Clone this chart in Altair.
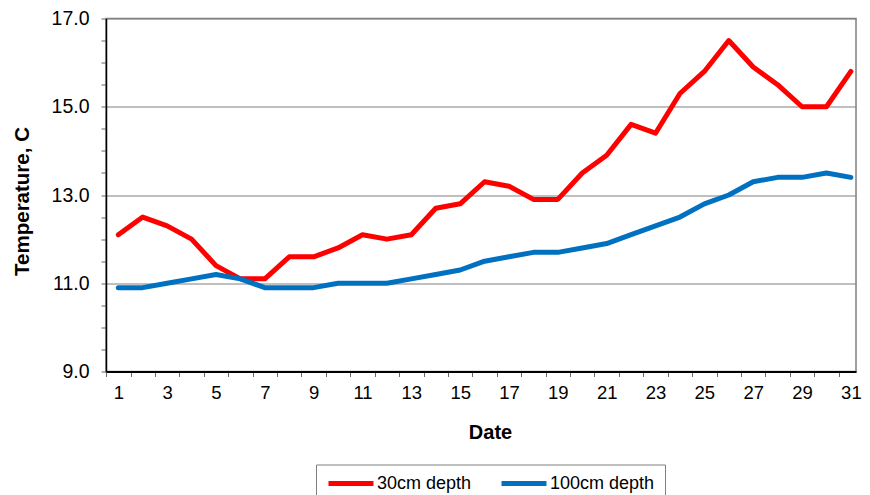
import altair as alt
import pandas as pd

days = list(range(1, 32))
depth_30cm = [12.1, 12.5, 12.3, 12.0, 11.4, 11.1, 11.1, 11.6, 11.6, 11.8,
              12.1, 12.0, 12.1, 12.7, 12.8, 13.3, 13.2, 12.9, 12.9, 13.5,
              13.9, 14.6, 14.4, 15.3, 15.8, 16.5, 15.9, 15.5, 15.0, 15.0, 15.8]
depth_100cm = [10.9, 10.9, 11.0, 11.1, 11.2, 11.1, 10.9, 10.9, 10.9, 11.0,
               11.0, 11.0, 11.1, 11.2, 11.3, 11.5, 11.6, 11.7, 11.7, 11.8,
               11.9, 12.1, 12.3, 12.5, 12.8, 13.0, 13.3, 13.4, 13.4, 13.5, 13.4]
series_names = ["30cm depth", "100cm depth"]
series_colors = ["#FF0000", "#0070C0"]

df = pd.DataFrame({"Date": days, series_names[0]: depth_30cm, series_names[1]: depth_100cm})
long = df.melt(id_vars="Date", var_name="Series", value_name="Temp")

W = 750
H = 353
X_DOMAIN = [0.496, 31.21]
half_band = W / (X_DOMAIN[1] - X_DOMAIN[0]) / 2
FONT = "Liberation Sans"

y_vals = [9 + 0.5 * i for i in range(17)]

chart = alt.Chart(long).mark_line(strokeWidth=5, strokeCap="round", strokeJoin="round").encode(
    x=alt.X("Date:Q",
            scale=alt.Scale(domain=X_DOMAIN, nice=False, zero=False),
            axis=alt.Axis(values=days, title="Date",
                          labelExpr="datum.value % 2 == 1 ? datum.label : ''",
                          labelOverlap=False,
                          tickOffset=-half_band, labelOffset=half_band,
                          tickSize=5, tickColor="#666666", tickWidth=1,
                          domainColor="#000000", domainWidth=2,
                          labelFont=FONT, labelFontSize=18.5, labelColor="#000000",
                          labelPadding=7,
                          titleFont=FONT, titleFontSize=20, titleFontWeight="bold",
                          titleColor="#000000", titleX=384, titleY=66.5,
                          titleBaseline="alphabetic",
                          grid=False)),
    y=alt.Y("Temp:Q",
            scale=alt.Scale(domain=[9, 17], nice=False, zero=False),
            axis=alt.Axis(values=y_vals, title="Temperature, C",
                          labelExpr="datum.value % 2 == 1 ? format(datum.value, '.1f') : ''",
                          labelOverlap=False,
                          tickSize=5, tickColor="#666666", tickWidth=1,
                          domainColor="#000000", domainWidth=1.5,
                          labelFont=FONT, labelFontSize=19.5, labelColor="#000000",
                          labelPadding=12,
                          grid=True, gridColor="#808080", gridWidth=1.2,
                          gridOpacity={"condition": {"test": "datum.value % 2 == 1 && datum.value > 9", "value": 1}, "value": 0},
                          titleFont=FONT, titleFontSize=20.5, titleFontWeight="bold",
                          titleColor="#000000", titleX=-74, titleY=182.5,
                          titleAngle=-90, titleAlign="center", titleBaseline="bottom")),
    color=alt.Color("Series:N",
                    scale=alt.Scale(domain=series_names, range=series_colors),
                    sort=series_names,
                    legend=alt.Legend(title=None, orient="none", direction="horizontal",
                                      legendX=210, legendY=446,
                                      symbolType="stroke", symbolSize=2025,
                                      symbolStrokeWidth=5, labelOffset=1,
                                      clipHeight=18,
                                      labelFont=FONT, labelFontSize=18, labelColor="#000000",
                                      columnPadding=27, padding=10,
                                      strokeColor="#808080", fillColor="#FFFFFF")),
).properties(
    width=W, height=H,
    autosize=alt.AutoSizeParams(type="none"),
    padding={"left": 98, "top": 10.5, "right": 6, "bottom": 125},
).configure_view(
    stroke="#808080", strokeWidth=1.5
)

chart.save("out.html", embed_options={"renderer": "svg", "actions": False})
